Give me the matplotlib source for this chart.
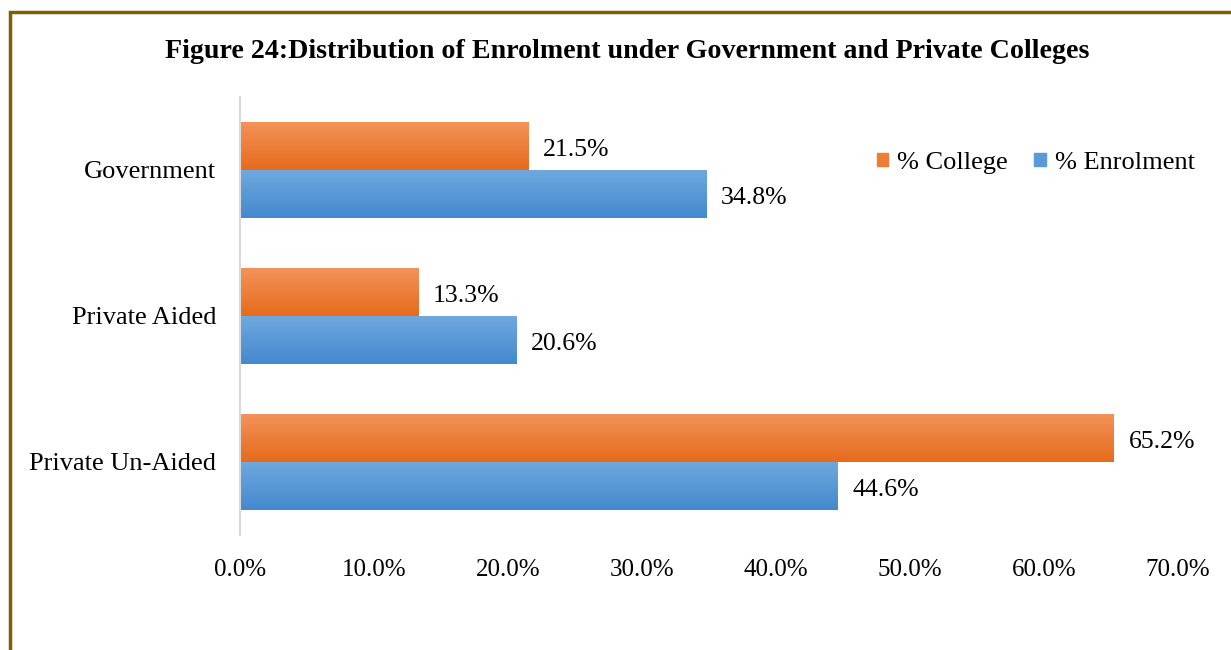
import numpy as np
import matplotlib.pyplot as plt
from matplotlib.patches import Rectangle, Patch

# dane
categories = ["Government", "Private Aided", "Private Un-Aided"]
college = [21.5, 13.3, 65.2]
enrolment = [34.8, 20.6, 44.6]
ticks = [0, 10, 20, 30, 40, 50, 60, 70]

plt.rcParams['font.family'] = ['Liberation Serif', 'DejaVu Serif']

fig = plt.figure(figsize=(12.31, 6.5), dpi=100)
ax = fig.add_axes([240 / 1231, 1 - 535 / 650, (1178 - 240) / 1231, 438 / 650])

# ramka wokol wykresu
fig.add_artist(Rectangle((10 / 1231, -0.05), 1.2, 1 - 11.5 / 650 + 0.05,
                         transform=fig.transFigure, fill=False,
                         edgecolor="#7F6000", linewidth=2.5))

fig.text(627 / 1231, 1 - 52 / 650,
         "Figure 24:Distribution of Enrolment under Government and Private Colleges",
         ha="center", va="center", fontsize=20.2, fontweight="bold")

y = np.arange(len(categories))
h = 48 / 146


def grad_bars(vals, offs, c_top, c_bot):
    bars = ax.barh(y + offs, vals, height=h, color=c_bot, linewidth=0)
    g = np.linspace(0, 1, 64).reshape(-1, 1)
    cmap = plt.matplotlib.colors.LinearSegmentedColormap.from_list("g", [c_top, c_bot])
    for b in bars:
        x0, y0 = b.get_x(), b.get_y()
        w, hh = b.get_width(), b.get_height()
        ax.imshow(g, extent=[x0, x0 + w, y0 + hh, y0], aspect="auto",
                  cmap=cmap, zorder=2, origin="upper")
    return bars


# os y odwrocona - gorna polowa to College
grad_bars(college, -h / 2, "#F39259", "#E66B1C")
grad_bars(enrolment, h / 2, "#6EA8DE", "#4489CF")

for i in range(len(categories)):
    ax.text(college[i] + 1.1, y[i] - h / 2 + 0.025, f"{college[i]:.1f}%",
            va="center", ha="left", fontsize=18.5)
    ax.text(enrolment[i] + 1.1, y[i] + h / 2 + 0.025, f"{enrolment[i]:.1f}%",
            va="center", ha="left", fontsize=18.5)

ax.set_xlim(0, 70)
ax.set_ylim(2.5, -0.5)
ax.set_yticks(y)
ax.set_yticklabels(categories, fontsize=19)
ax.set_xticks(ticks)
ax.set_xticklabels([f"{t:.1f}%" for t in ticks], fontsize=18)
ax.tick_params(length=0)
ax.tick_params(axis="y", pad=17)
ax.tick_params(axis="x", pad=17)
for s in ["top", "right", "bottom"]:
    ax.spines[s].set_visible(False)
ax.spines["left"].set_color("#D9D9D9")
ax.spines["left"].set_linewidth(1.5)

handles = [Patch(color="#EE7E34", label="% College"),
           Patch(color="#5A9AD8", label="% Enrolment")]
ax.legend(handles=handles, loc="center left", bbox_to_anchor=(877 / 1231, 1 - 163 / 650),
          bbox_transform=fig.transFigure, ncol=2, frameon=False, fontsize=19,
          handlelength=0.42, handleheight=0.42, handletextpad=0.35, columnspacing=1.0,
          borderaxespad=0, borderpad=0)

plt.savefig("out.png", dpi=100)
